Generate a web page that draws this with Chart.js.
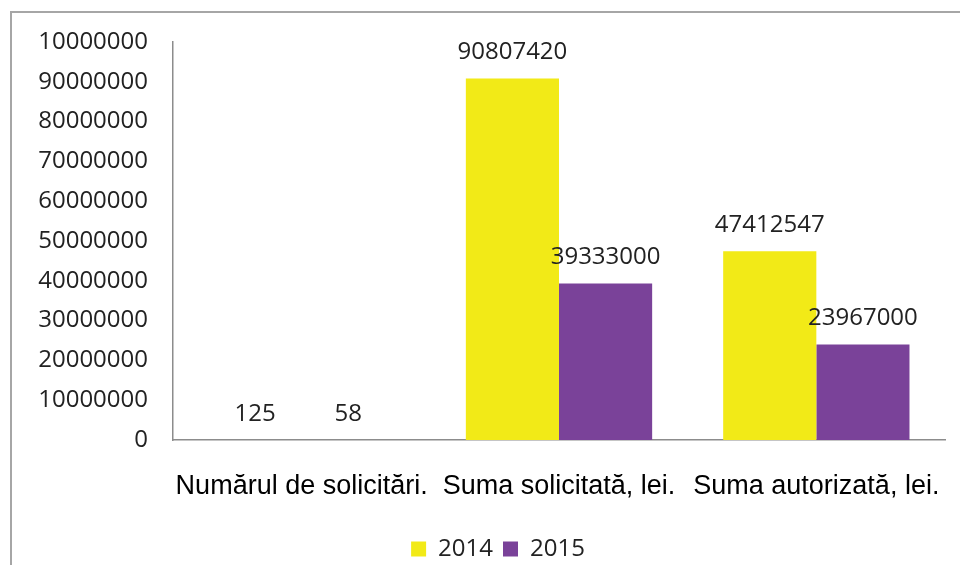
<!DOCTYPE html>
<html>
<head>
<meta charset="utf-8">
<script src="https://cdn.jsdelivr.net/npm/chart.js@4/dist/chart.umd.min.js"></script>
<style>
  body { margin: 0; background: #fff; }
  #wrap { position: relative; width: 960px; height: 565px; overflow: hidden; }
  #frame { position: absolute; left: 10px; top: 11px; width: 1000px; height: 600px;
           border-left: 2px solid #a6a6a6; border-top: 2px solid #a6a6a6; }
  canvas { position: absolute; left: 0; top: 0; }
</style>
</head>
<body>
<div id="wrap">
  <div id="frame"></div>
  <canvas id="myChart" width="960" height="565"></canvas>
</div>
<script>
var categories = ['Numărul de solicitări.', 'Suma solicitată, lei.', 'Suma autorizată, lei.'];
var values2014 = [125, 90807420, 47412547];
var values2015 = [58, 39333000, 23967000];
// tick labels as they read in the picture (top one is cut short there)
var yTickLabels = ['0', '10000000', '20000000', '30000000', '40000000', '50000000',
                   '60000000', '70000000', '80000000', '90000000', '10000000'];

var numFont = "'Open Sans', sans-serif";
var catFont = "'Liberation Sans', Arial, sans-serif";

// draws the value above each bar
var valueLabels = {
  id: 'valueLabels',
  afterDatasetsDraw: function(chart) {
    var ctx = chart.ctx;
    ctx.save();
    ctx.font = '24px ' + numFont;
    ctx.fillStyle = '#222';
    ctx.textAlign = 'center';
    ctx.textBaseline = 'middle';
    chart.data.datasets.forEach(function(ds, i) {
      chart.getDatasetMeta(i).data.forEach(function(el, j) {
        ctx.fillText(String(ds.data[j]), el.x, el.y - 26);
      });
    });
    ctx.restore();
  }
};

var ctx = document.getElementById('myChart');
var myChart = new Chart(ctx, {
  type: 'bar',
  data: {
    labels: categories,
    datasets: [
      { label: '2014', data: values2014, backgroundColor: '#f2ea17', borderWidth: 0 },
      { label: '2015', data: values2015, backgroundColor: '#7a4299', borderWidth: 0 }
    ]
  },
  options: {
    responsive: false,
    animation: false,
    layout: { padding: { left: 36, right: 0, top: 42, bottom: -6 } },
    datasets: { bar: { barPercentage: 1, categoryPercentage: 0.724 } },
    plugins: {
      legend: {
        position: 'bottom',
        labels: {
          boxWidth: 15, boxHeight: 15, padding: 10,
          color: '#222',
          font: { family: numFont, size: 24 }
        }
      },
      tooltip: { enabled: false }
    },
    scales: {
      x: {
        grid: { display: false, drawTicks: false },
        border: { display: true, color: '#8c8c8c', width: 1.5 },
        ticks: {
          color: '#000', padding: 30, maxRotation: 0, minRotation: 0, autoSkip: false,
          font: { family: catFont, size: 27 }
        },
        afterFit: function(scale) {
          scale.height = 87;
          scale.paddingLeft = 0;
          scale.paddingRight = 0;
        }
      },
      y: {
        min: 0, max: 100000000,
        grid: { display: false, drawTicks: false },
        border: { display: true, color: '#8c8c8c', width: 1.5 },
        ticks: {
          stepSize: 10000000,
          padding: 25,
          color: '#222',
          font: { family: numFont, size: 24 },
          callback: function(v, i) { return yTickLabels[i]; }
        },
        afterFit: function(scale) { scale.width = 137; }
      },
      // empty spacer on the right so the plot stops short of the edge
      yRight: {
        position: 'right',
        grid: { display: false, drawTicks: false },
        border: { display: false },
        ticks: { display: false },
        afterFit: function(scale) { scale.width = 15; }
      }
    }
  },
  plugins: [valueLabels]
});
</script>
</body>
</html>
